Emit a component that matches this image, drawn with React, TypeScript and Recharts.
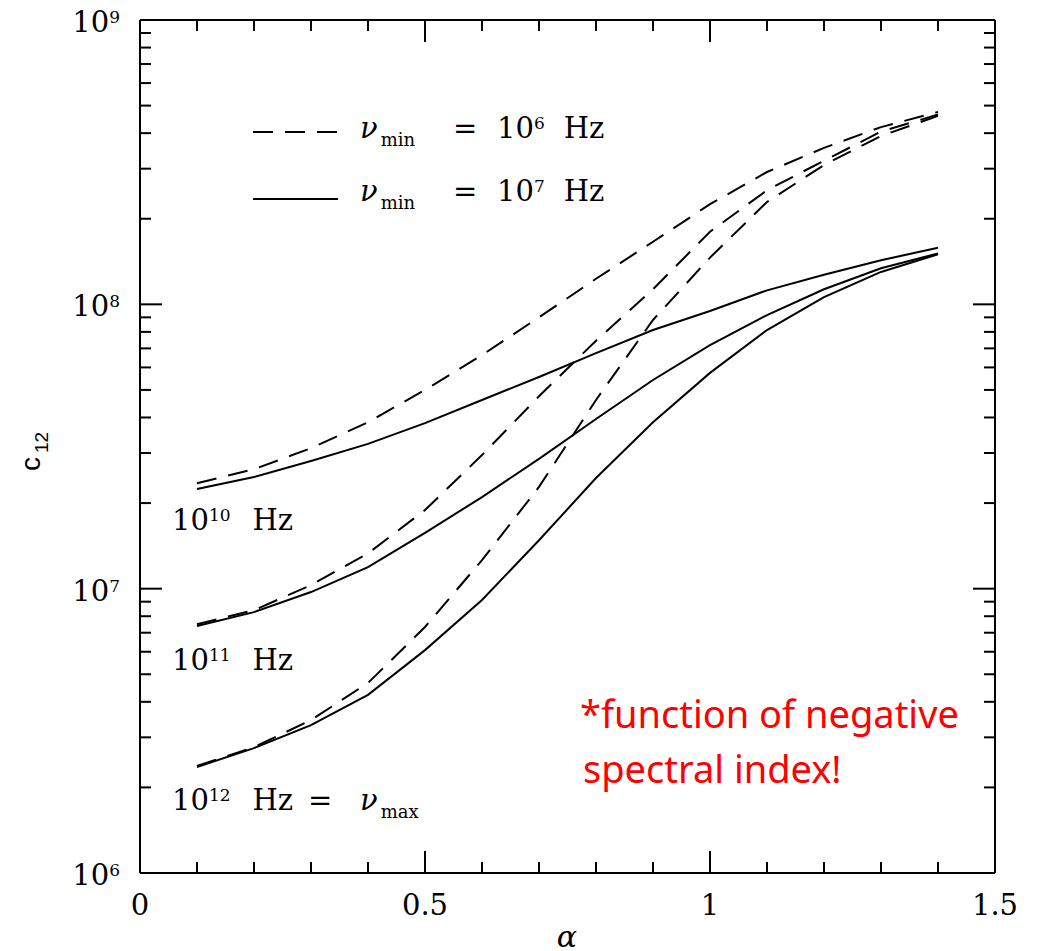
import { LineChart, Line, XAxis, YAxis } from 'recharts';

const alpha = [0.1, 0.2, 0.3, 0.4, 0.5, 0.6, 0.7, 0.8, 0.9, 1.0, 1.1, 1.2, 1.3, 1.4];

// nu_min = 1e6 Hz (dashed)
const dash1e10 = [2.35e7, 2.63e7, 3.12e7, 3.85e7, 5.0e7, 6.63e7, 9.0e7, 1.23e8, 1.66e8, 2.25e8, 2.92e8, 3.55e8, 4.2e8, 4.75e8];
const dash1e11 = [7.5e6, 8.4e6, 1.03e7, 1.33e7, 1.89e7, 2.95e7, 4.75e7, 7.45e7, 1.13e8, 1.8e8, 2.52e8, 3.2e8, 4.05e8, 4.65e8];
const dash1e12 = [2.38e6, 2.77e6, 3.45e6, 4.66e6, 7.33e6, 1.26e7, 2.28e7, 4.61e7, 8.81e7, 1.46e8, 2.29e8, 3.09e8, 3.91e8, 4.6e8];

// nu_min = 1e7 Hz (solid)
const solid1e10 = [2.24e7, 2.47e7, 2.81e7, 3.23e7, 3.82e7, 4.61e7, 5.55e7, 6.74e7, 8.12e7, 9.47e7, 1.12e8, 1.27e8, 1.43e8, 1.58e8];
const solid1e11 = [7.39e6, 8.27e6, 9.73e6, 1.19e7, 1.57e7, 2.1e7, 2.86e7, 3.95e7, 5.42e7, 7.19e7, 9.17e7, 1.13e8, 1.34e8, 1.51e8];
const solid1e12 = [2.36e6, 2.75e6, 3.31e6, 4.23e6, 6.08e6, 9.12e6, 1.48e7, 2.45e7, 3.85e7, 5.74e7, 8.12e7, 1.06e8, 1.3e8, 1.5e8];

const xTicks = [0, 0.1, 0.2, 0.3, 0.4, 0.5, 0.6, 0.7, 0.8, 0.9, 1, 1.1, 1.2, 1.3, 1.4, 1.5];
const xLabels = ['0', '0.5', '1', '1.5'];
const decades = [6, 7, 8, 9];
const yTicks = [
  1e6, 2e6, 3e6, 4e6, 5e6, 6e6, 7e6, 8e6, 9e6,
  1e7, 2e7, 3e7, 4e7, 5e7, 6e7, 7e7, 8e7, 9e7,
  1e8, 2e8, 3e8, 4e8, 5e8, 6e8, 7e8, 8e8, 9e8,
  1e9,
];

const data = alpha.map((a, i) => ({
  alpha: a,
  d10: dash1e10[i],
  d11: dash1e11[i],
  d12: dash1e12[i],
  s10: solid1e10[i],
  s11: solid1e11[i],
  s12: solid1e12[i],
}));

const SERIF = '"DejaVu Serif", serif';
const MAJOR = 22;
const MINOR = 11;
const DASH = '20 12';

const isHalf = (v: number) => Math.abs(v * 2 - Math.round(v * 2)) < 1e-9;
const isDecade = (v: number) => Math.abs(Math.log10(v) - Math.round(Math.log10(v))) < 1e-9;

const BottomTick = (props: any) => {
  const { x, y, payload } = props;
  const v = payload.value;
  const major = isHalf(v);
  const idx = Math.round(v * 2);
  return (
    <g>
      <line x1={x} x2={x} y1={y} y2={y - (major ? MAJOR : MINOR)} stroke="#000" strokeWidth={2} />
      {major && (
        <text x={x} y={y + 42} textAnchor="middle" fontFamily={SERIF} fontSize={29} fill="#000">
          {xLabels[idx]}
        </text>
      )}
    </g>
  );
};

const TopTick = (props: any) => {
  const { x, y, payload } = props;
  const major = isHalf(payload.value);
  return <line x1={x} x2={x} y1={y} y2={y + (major ? MAJOR : MINOR)} stroke="#000" strokeWidth={2} />;
};

const LeftTick = (props: any) => {
  const { x, y, payload } = props;
  const v = payload.value;
  const major = isDecade(v);
  const exp = Math.round(Math.log10(v));
  return (
    <g>
      <line x1={x} x2={x + (major ? MAJOR : MINOR)} y1={y} y2={y} stroke="#000" strokeWidth={2} />
      {major && decades.includes(exp) && (
        <text x={x - 20} y={y + 12} textAnchor="end" fontFamily={SERIF} fontSize={29} fill="#000">
          10
          <tspan fontSize={17} dy={-9}>{exp}</tspan>
        </text>
      )}
    </g>
  );
};

const RightTick = (props: any) => {
  const { x, y, payload } = props;
  const major = isDecade(payload.value);
  return <line x1={x} x2={x - (major ? MAJOR : MINOR)} y1={y} y2={y} stroke="#000" strokeWidth={2} />;
};

const Freq = ({ x, y, exp, gap }: { x: number; y: number; exp: string; gap: number }) => (
  <text x={x} y={y} fontFamily={SERIF} fontSize={29} fill="#000">
    10
    <tspan fontSize={17} dy={-9}>{exp}</tspan>
    <tspan dy={9} dx={gap}>Hz</tspan>
  </text>
);

const Nu = ({ x, y, sub }: { x: number; y: number; sub: string }) => (
  <text x={x} y={y} fontFamily={SERIF} fontSize={29} fill="#000">
    <tspan fontStyle="italic">ν</tspan>
    <tspan fontSize={18} dy={8} dx={3}>{sub}</tspan>
  </text>
);

export default function App() {
  return (
    <div style={{ position: 'relative', width: 1024, height: 943 }}>
      <LineChart
        width={1024}
        height={943}
        data={data}
        margin={{ top: 11, right: 36, bottom: 0, left: 0 }}
      >
        <XAxis
          xAxisId="bottom"
          dataKey="alpha"
          type="number"
          domain={[0, 1.5]}
          ticks={xTicks}
          interval={0}
          height={78}
          tickSize={0}
          tickMargin={0}
          tickLine={false}
          axisLine={{ stroke: '#000', strokeWidth: 2 }}
          tick={<BottomTick />}
        />
        <XAxis
          xAxisId="top"
          orientation="top"
          dataKey="alpha"
          type="number"
          domain={[0, 1.5]}
          ticks={xTicks}
          interval={0}
          height={1}
          tickSize={0}
          tickMargin={0}
          tickLine={false}
          axisLine={{ stroke: '#000', strokeWidth: 2 }}
          tick={<TopTick />}
        />
        <YAxis
          yAxisId="left"
          type="number"
          scale="log"
          domain={[1e6, 1e9]}
          allowDataOverflow
          ticks={yTicks}
          interval={0}
          width={132}
          tickSize={0}
          tickMargin={0}
          tickLine={false}
          axisLine={{ stroke: '#000', strokeWidth: 2 }}
          tick={<LeftTick />}
        />
        <YAxis
          yAxisId="right"
          orientation="right"
          type="number"
          scale="log"
          domain={[1e6, 1e9]}
          allowDataOverflow
          ticks={yTicks}
          interval={0}
          width={1}
          tickSize={0}
          tickMargin={0}
          tickLine={false}
          axisLine={{ stroke: '#000', strokeWidth: 2 }}
          tick={<RightTick />}
        />
        {(['d10', 'd11', 'd12'] as const).map((k) => (
          <Line
            key={k}
            xAxisId="bottom"
            yAxisId="left"
            type="linear"
            dataKey={k}
            stroke="#000"
            strokeWidth={2}
            strokeDasharray={DASH}
            dot={false}
            isAnimationActive={false}
          />
        ))}
        {(['s10', 's11', 's12'] as const).map((k) => (
          <Line
            key={k}
            xAxisId="bottom"
            yAxisId="left"
            type="linear"
            dataKey={k}
            stroke="#000"
            strokeWidth={2}
            dot={false}
            isAnimationActive={false}
          />
        ))}
      </LineChart>

      <svg
        width={1040}
        height={951}
        style={{ position: 'absolute', left: -8, top: -8, pointerEvents: 'none' }}
      >
        {/* legend */}
        <line x1={253} x2={338} y1={132} y2={132} stroke="#000" strokeWidth={2} strokeDasharray={DASH} />
        <line x1={253} x2={338} y1={199} y2={199} stroke="#000" strokeWidth={2} />
        <Nu x={360} y={138} sub="min" />
        <text x={453} y={138} fontFamily={SERIF} fontSize={29} fill="#000">=</text>
        <Freq x={497} y={138} exp="6" gap={19} />
        <Nu x={360} y={201} sub="min" />
        <text x={453} y={201} fontFamily={SERIF} fontSize={29} fill="#000">=</text>
        <Freq x={497} y={201} exp="7" gap={19} />

        {/* curve labels */}
        <Freq x={172} y={530} exp="10" gap={22} />
        <Freq x={172} y={670} exp="11" gap={22} />
        <Freq x={172} y={810} exp="12" gap={22} />
        <text x={308} y={810} fontFamily={SERIF} fontSize={29} fill="#000">=</text>
        <Nu x={360} y={810} sub="max" />

        {/* axis titles */}
        <text
          x={40}
          y={471}
          transform="rotate(-90 40 471)"
          fontFamily='"Liberation Sans", sans-serif'
          fontSize={28}
          fill="#000"
        >
          c
          <tspan fontSize={19} dy={8} dx={4}>12</tspan>
        </text>
        <text x={567} y={947} textAnchor="middle" fontFamily={SERIF} fontStyle="italic" fontSize={30} fill="#000">
          α
        </text>

        {/* note */}
        <text x={580} y={728} fontFamily='"Noto Sans", sans-serif' fontSize={38} fill="#ff0000">
          *function of negative
        </text>
        <text x={583} y={783} fontFamily='"Noto Sans", sans-serif' fontSize={38} fill="#ff0000">
          spectral index!
        </text>
      </svg>
    </div>
  );
}
